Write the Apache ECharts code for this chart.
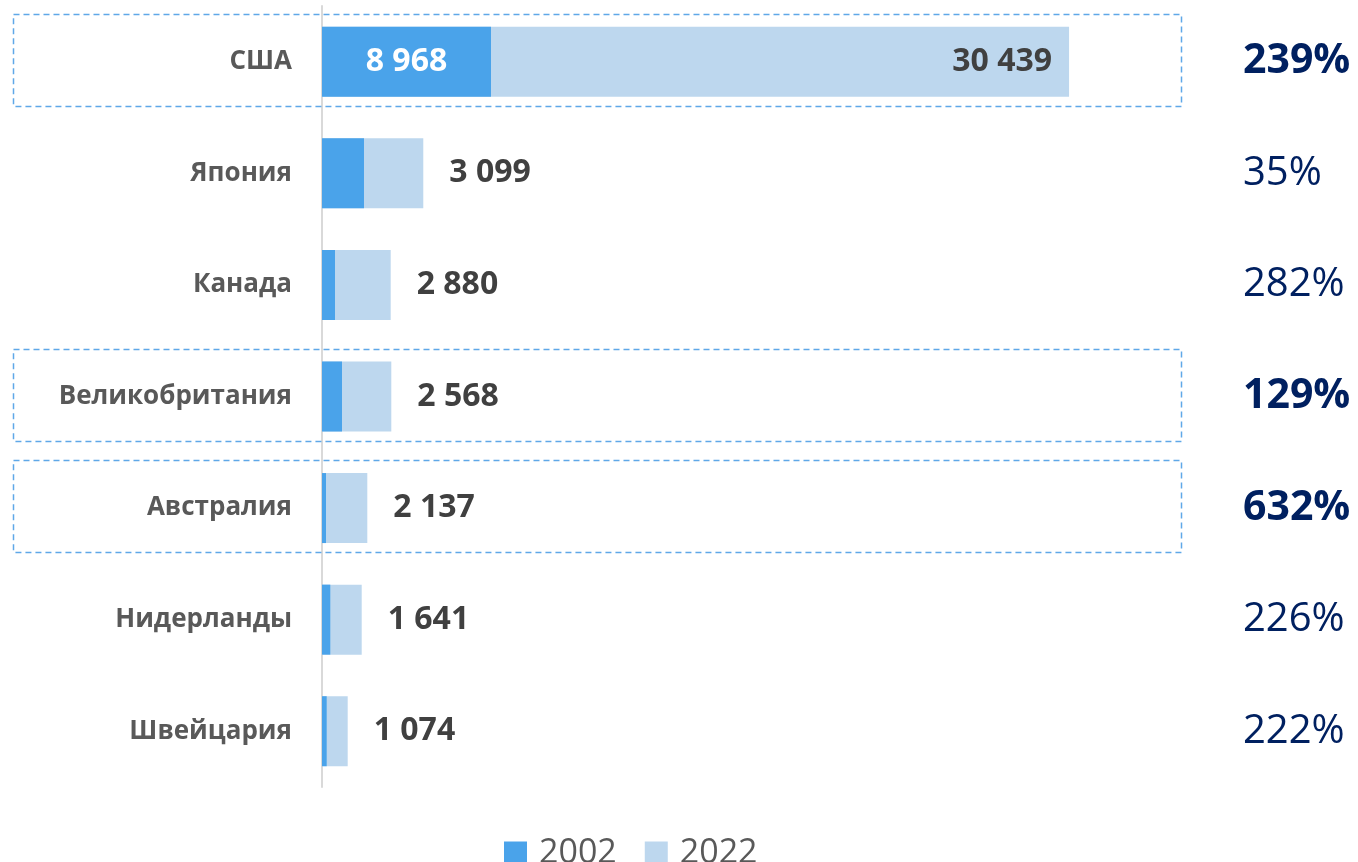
<!DOCTYPE html>
<html>
<head>
<meta charset="utf-8">
<script src="https://cdn.jsdelivr.net/npm/echarts@6/dist/echarts.min.js"></script>
<style>
html,body{margin:0;padding:0;background:#fff;}
#chart{width:1358px;height:862px;}
</style>
</head>
<body>
<div id="chart"></div>
<script>
// Categories (top to bottom)
const countries = ['США', 'Япония', 'Канада', 'Великобритания', 'Австралия', 'Нидерланды', 'Швейцария'];
// Bar lengths as drawn in the picture (estimated)
const bars2002 = [6886, 1711, 530, 815, 163, 338, 191];
const bars2022 = [30439, 4127, 2799, 2824, 1846, 1618, 1047];
// Values printed on the bars
const printed2002 = [8968, null, null, null, null, null, null];
const printed2022 = [30439, 3099, 2880, 2568, 2137, 1641, 1074];
// Growth labels on the right
const growth = ['239%', '35%', '282%', '129%', '632%', '226%', '222%'];
// Highlighted rows (dashed frames, bold growth)
const highlighted = ['США', 'Великобритания', 'Австралия'];
const seriesNames = ['2002', '2022'];

const fmt = v => String(v).replace(/\B(?=(\d{3})+(?!\d))/g, ' ');
const FONT = '"Open Sans", "Noto Sans", sans-serif';

const chart = echarts.init(document.getElementById('chart'), null, {renderer: 'canvas'});

const data2022 = bars2022.map((v, i) => {
  const item = {value: v};
  if (i === 0) {
    item.label = {position: 'insideRight', distance: 17};
  }
  return item;
});
const data2002 = bars2002.map((v, i) => {
  const item = {value: v};
  if (printed2002[i] != null) {
    item.label = {show: true};
  }
  return item;
});

const option = {
  animation: false,
  backgroundColor: '#ffffff',
  textStyle: {fontFamily: FONT},
  grid: {left: 322, right: 177, top: 6, bottom: 75, containLabel: false},
  legend: {
    data: seriesNames,
    left: 499,
    top: 831,
    icon: 'rect',
    itemWidth: 23,
    itemHeight: 23,
    itemGap: 28,
    selectedMode: false,
    textStyle: {fontSize: 34, color: '#595959', fontFamily: FONT, padding: [0, 0, 0, 7]}
  },
  xAxis: {
    type: 'value',
    min: 0,
    max: 35000,
    show: false
  },
  yAxis: [
    {
      type: 'category',
      inverse: true,
      data: countries,
      axisLine: {show: true, lineStyle: {color: '#D9D9D9', width: 2}},
      axisTick: {show: false},
      axisLabel: {margin: 30, fontSize: 26, fontWeight: 'bold', color: '#595959', fontFamily: FONT}
    },
    {
      type: 'category',
      inverse: true,
      position: 'right',
      data: growth,
      axisLine: {show: false},
      axisTick: {show: false},
      axisLabel: {
        margin: 62,
        align: 'left',
        formatter: (val, idx) => highlighted.indexOf(countries[idx]) >= 0 ? '{b|' + val + '}' : '{n|' + val + '}',
        rich: {
          b: {fontSize: 41, fontWeight: 'bold', color: '#002060', fontFamily: FONT},
          n: {fontSize: 40, fontWeight: 'normal', color: '#002060', fontFamily: FONT}
        }
      }
    }
  ],
  series: [
    {
      name: '2002',
      type: 'bar',
      yAxisIndex: 0,
      data: data2002,
      barWidth: 70,
      barGap: '-100%',
      z: 3,
      itemStyle: {color: '#4AA3EA'},
      label: {
        show: false,
        position: 'inside',
        color: '#ffffff',
        fontWeight: 'bold',
        fontSize: 32,
        fontFamily: FONT,
        formatter: p => printed2002[p.dataIndex] != null ? fmt(printed2002[p.dataIndex]) : ''
      }
    },
    {
      name: '2022',
      type: 'bar',
      yAxisIndex: 0,
      data: data2022,
      barWidth: 70,
      barGap: '-100%',
      z: 2,
      itemStyle: {color: '#BDD7EE'},
      label: {
        show: true,
        position: 'right',
        distance: 26,
        color: '#404040',
        fontWeight: 'bold',
        fontSize: 32,
        fontFamily: FONT,
        formatter: p => fmt(printed2022[p.dataIndex])
      }
    },
    {
      name: 'frames',
      type: 'custom',
      yAxisIndex: 0,
      silent: true,
      clip: false,
      z: 1,
      data: highlighted.map(c => [0, countries.indexOf(c)]),
      renderItem: (params, api) => {
        const cs = params.coordSys;
        const p = api.coord([0, api.value(1)]);
        const band = api.size([0, 1])[1];
        const h = band * 0.824;
        const x0 = cs.x - 309;
        return {
          type: 'rect',
          shape: {x: x0 + 0.5, y: Math.round(p[1] - 2 - h / 2) + 0.5, width: cs.x + cs.width - x0, height: h},
          style: {fill: 'none', stroke: '#5FA8E8', lineWidth: 1.5, lineDash: [6, 4]}
        };
      }
    }
  ]
};
chart.setOption(option);
</script>
</body>
</html>
